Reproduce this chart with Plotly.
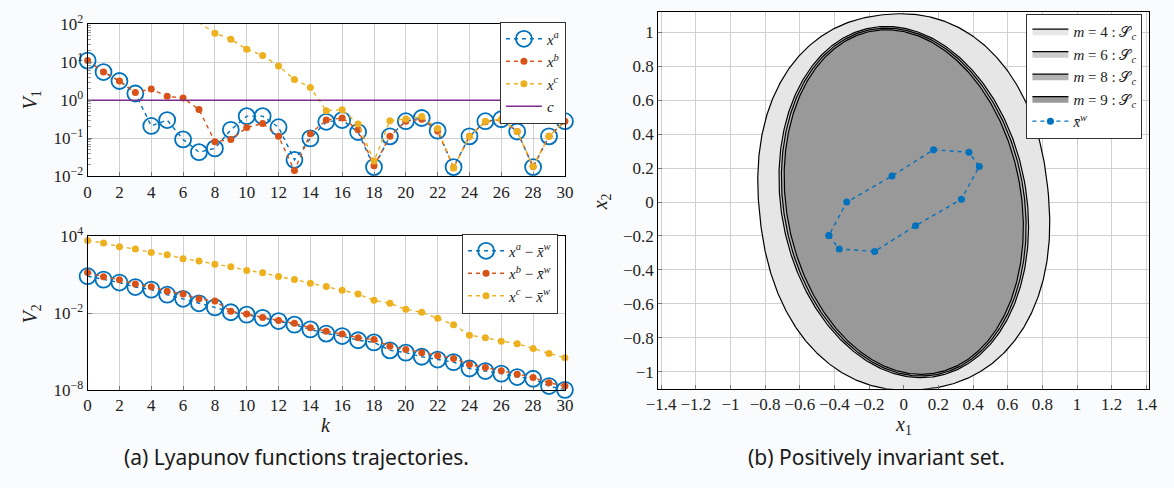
import numpy as np
import plotly.graph_objects as go

# ---------------- data ----------------
k = list(range(31))

# Lyapunov function V1 along three trajectories
v1_a = [11, 5.5, 3.2, 1.5, 0.21, 0.30, 0.093, 0.043, 0.054, 0.166, 0.38, 0.38, 0.195, 0.027,
        0.099, 0.27, 0.30, 0.145, 0.0174, 0.112, 0.28, 0.34, 0.158, 0.0174, 0.112, 0.28, 0.315,
        0.15, 0.0174, 0.112, 0.28]
v1_b = [11, 5.5, 3.2, 1.6, 1.96, 1.26, 1.14, 0.57, 0.081, 0.093, 0.19, 0.245, 0.112, 0.0141,
        0.132, 0.30, 0.34, 0.166, 0.019, 0.112, 0.28, 0.315, 0.155, 0.0168, 0.112, 0.27, 0.31,
        0.15, 0.018, 0.112, 0.28]
v1_c = [5200, 2800, 1600, 900, 520, 330, 190, 110, 58, 40, 22, 15, 7.9, 3.5,
        2.16, 0.53, 0.56, 0.235, 0.025, 0.29, 0.32, 0.37, 0.18, 0.0165, 0.112, 0.28, 0.315,
        0.15, 0.018, 0.112, 0.28]
c_level = 1.0

# log10 of V2 along the same trajectories (relative to the periodic orbit)
log_v2_a = [0.89, 0.62, 0.39, 0.04, -0.16, -0.56, -0.88, -1.23, -1.55, -1.93, -2.12, -2.37,
            -2.62, -2.90, -3.27, -3.60, -3.79, -4.12, -4.29, -4.91, -5.09, -5.41, -5.63, -5.83,
            -6.33, -6.53, -6.73, -7.00, -7.13, -7.70, -8.00]
log_v2_b = [1.18, 0.84, 0.62, 0.27, 0.07, -0.28, -0.51, -0.88, -1.05, -1.85, -2.07, -2.35,
            -2.57, -2.80, -3.15, -3.42, -3.64, -3.92, -4.07, -4.59, -4.84, -5.09, -5.34, -5.54,
            -6.01, -6.26, -6.51, -6.78, -7.03, -7.45, -7.70]
log_v2_c = [3.68, 3.48, 3.20, 3.01, 2.75, 2.56, 2.26, 2.08, 1.83, 1.63, 1.34, 1.16, 0.86, 0.64,
            0.34, 0.09, -0.21, -0.51, -1.00, -1.23, -1.70, -1.93, -2.40, -2.90, -3.72, -3.92,
            -4.19, -4.39, -4.76, -5.16, -5.48]

# level sets S_c for polynomial Lyapunov functions of degree m
# (rotated superellipse approximation: minor/major semi-axes, tilt of the major axis, exponent)
m_levels = [4, 6, 8, 9]
semi_minor = [0.835, 0.707, 0.693, 0.677]
semi_major = [1.11, 1.044, 1.034, 1.024]
tilt_deg = [6.0, 10.3, 10.2, 10.1]
shape_exp = [2.2, 2.0, 2.0, 2.0]
set_fill = ["#e6e6e6", "#cccccc", "#b3b3b3", "#999999"]

# periodic orbit x̄^w
orbit_x1 = [-0.432, -0.372, -0.168, 0.068, 0.333, 0.436, 0.376, 0.172, -0.068, -0.329, -0.432]
orbit_x2 = [-0.197, -0.277, -0.291, -0.140, 0.017, 0.210, 0.293, 0.308, 0.154, 0.000, -0.197]

# ---------------- style ----------------
BLUE, ORANGE, YELLOW, PURPLE = "#0072bd", "#d95319", "#edb120", "#7e2f8e"
SERIF = "Liberation Serif"
TXT = "#222222"
GRID = "#d0d0d0"
W, H = 1174, 488


def px_x(p):
    return p / W


def px_y(p):
    return 1 - p / H


fig = go.Figure()

# ---- top left: V1 ----
fig.add_trace(go.Scatter(x=k, y=v1_a, mode="lines+markers", name="<i>x</i><sup><i>a</i></sup>",
                         line=dict(color=BLUE, width=1.4, dash="4px,4px"),
                         marker=dict(symbol="circle-open", size=16, color=BLUE, line=dict(width=1.8)),
                         cliponaxis=False, xaxis="x", yaxis="y", legend="legend"))
fig.add_trace(go.Scatter(x=k, y=v1_b, mode="lines+markers", name="<i>x</i><sup><i>b</i></sup>",
                         line=dict(color=ORANGE, width=1.4, dash="4px,4px"),
                         marker=dict(size=7, color=ORANGE),
                         cliponaxis=False, xaxis="x", yaxis="y", legend="legend"))
fig.add_trace(go.Scatter(x=k, y=v1_c, mode="lines+markers", name="<i>x</i><sup><i>c</i></sup>",
                         line=dict(color=YELLOW, width=1.4, dash="4px,4px"),
                         marker=dict(size=7, color=YELLOW),
                         cliponaxis=True, xaxis="x", yaxis="y", legend="legend"))
fig.add_trace(go.Scatter(x=[k[0], k[-1]], y=[c_level, c_level], mode="lines", name="<i>c</i>",
                         line=dict(color=PURPLE, width=1.6),
                         xaxis="x", yaxis="y", legend="legend"))

# ---- bottom left: V2 ----
v2_names = ["<i>x</i><sup><i>a</i></sup> − <i>x̄</i><sup><i>w</i></sup>",
            "<i>x</i><sup><i>b</i></sup> − <i>x̄</i><sup><i>w</i></sup>",
            "<i>x</i><sup><i>c</i></sup> − <i>x̄</i><sup><i>w</i></sup>"]
fig.add_trace(go.Scatter(x=k, y=[10 ** v for v in log_v2_a], mode="lines+markers", name=v2_names[0],
                         line=dict(color=BLUE, width=1.4, dash="4px,4px"),
                         marker=dict(symbol="circle-open", size=16, color=BLUE, line=dict(width=1.8)),
                         cliponaxis=False, xaxis="x2", yaxis="y2", legend="legend2"))
fig.add_trace(go.Scatter(x=k, y=[10 ** v for v in log_v2_b], mode="lines+markers", name=v2_names[1],
                         line=dict(color=ORANGE, width=1.4, dash="4px,4px"),
                         marker=dict(size=7, color=ORANGE),
                         cliponaxis=False, xaxis="x2", yaxis="y2", legend="legend2"))
fig.add_trace(go.Scatter(x=k, y=[10 ** v for v in log_v2_c], mode="lines+markers", name=v2_names[2],
                         line=dict(color=YELLOW, width=1.4, dash="4px,4px"),
                         marker=dict(size=7, color=YELLOW),
                         cliponaxis=False, xaxis="x2", yaxis="y2", legend="legend2"))

# ---- right: invariant sets and periodic orbit ----
t = np.linspace(0, 2 * np.pi, 600)
for m, a, b, phi, p, col in zip(m_levels, semi_minor, semi_major, tilt_deg, shape_exp, set_fill):
    u = a * np.sign(np.cos(t)) * np.abs(np.cos(t)) ** (2 / p)
    v = b * np.sign(np.sin(t)) * np.abs(np.sin(t)) ** (2 / p)
    r = np.deg2rad(phi)
    bx = u * np.cos(r) - v * np.sin(r)
    by = u * np.sin(r) + v * np.cos(r)
    fig.add_trace(go.Scatter(x=bx, y=by, mode="lines", fill="toself", fillcolor=col,
                             line=dict(color="black", width=1.2),
                             name=f"<i>m</i> = {m} : 𝒮<sub><i>c</i></sub>",
                             xaxis="x3", yaxis="y3", legend="legend3"))
fig.add_trace(go.Scatter(x=orbit_x1, y=orbit_x2, mode="lines+markers", name="<i>x̄</i><sup><i>w</i></sup>",
                         line=dict(color=BLUE, width=1.4, dash="4px,4px"),
                         marker=dict(size=7, color=BLUE),
                         xaxis="x3", yaxis="y3", legend="legend3"))

# ---------------- axes ----------------
tick_font = dict(family=SERIF, size=17, color=TXT)
frame = dict(showline=True, linecolor="black", linewidth=1.2, mirror=True,
             gridcolor=GRID, gridwidth=1, zeroline=False, tickfont=tick_font,
             ticks="inside", ticklen=4, tickcolor="#777")

left_x = [px_x(77), px_x(563)]
decades1 = [-2, -1, 0, 1, 2]
minor1 = [d * 10 ** e for e in range(-2, 2) for d in range(2, 10)]

fig.update_layout(
    xaxis=dict(domain=left_x, anchor="y", range=[0, 30], tickvals=list(range(0, 31, 2)), **frame),
    yaxis=dict(domain=[px_y(172), px_y(12.7)], anchor="x", type="log", range=[-2, 2],
               tickvals=[10 ** e for e in decades1],
               ticktext=["10<sup>%s</sup>" % str(e).replace("-", "−") for e in decades1],
               minor=dict(tickvals=minor1, ticks="inside", ticklen=3, tickcolor="#999", showgrid=False),
               **frame),
    xaxis2=dict(domain=left_x, anchor="y2", range=[0, 30], tickvals=list(range(0, 31, 2)), **frame),
    yaxis2=dict(domain=[px_y(395.7), px_y(235)], anchor="x2", type="log", range=[-8, 4],
                tickvals=[1e-8, 1e-2, 1e4],
                ticktext=["10<sup>−8</sup>", "10<sup>−2</sup>", "10<sup>4</sup>"], **frame),
    xaxis3=dict(domain=[px_x(658), px_x(1158)], anchor="y3", range=[-1.417, 1.417],
                tickvals=[round(-1.4 + 0.2 * i, 1) for i in range(15)],
                ticktext=[("%g" % round(-1.4 + 0.2 * i, 1)).replace("-", "−") for i in range(15)],
                **frame),
    yaxis3=dict(domain=[px_y(394.5), px_y(0.5)], anchor="x3", range=[-1.10, 1.117],
                tickvals=[round(-1 + 0.2 * i, 1) for i in range(11)],
                ticktext=[("%g" % round(-1 + 0.2 * i, 1)).replace("-", "−") for i in range(11)],
                **frame),
)

# ---------------- legends ----------------
leg_common = dict(bgcolor="white", bordercolor="#333", borderwidth=1,
                  font=dict(family=SERIF, size=15, color=TXT), xanchor="right", yanchor="top",
                  itemwidth=36, tracegroupgap=0)
fig.update_layout(
    legend=dict(x=px_x(564), y=px_y(10), **leg_common),
    legend2=dict(x=px_x(556), y=px_y(232), **leg_common),
    legend3=dict(x=px_x(1151), y=px_y(2), **leg_common),
)

# ---------------- axis titles and captions ----------------
ann = [
    dict(text="<i>V</i><sub>1</sub>", x=px_x(20), y=px_y(92), textangle=-90),
    dict(text="<i>V</i><sub>2</sub>", x=px_x(20), y=px_y(316), textangle=-90),
    dict(text="<i>k</i>", x=px_x(320), y=px_y(432)),
    dict(text="<i>x</i><sub>1</sub>", x=px_x(908), y=px_y(433)),
    dict(text="<i>x</i><sub>2</sub>", x=px_x(600), y=px_y(199), textangle=-90),
]
annotations = [dict(a, xref="paper", yref="paper", showarrow=False, xanchor="center", yanchor="middle",
                    font=dict(family=SERIF, size=20, color=TXT)) for a in ann]
for txt, cx in [("(a) Lyapunov functions trajectories.", 290),
                ("(b) Positively invariant set.", 880)]:
    annotations.append(dict(text=txt, x=px_x(cx), y=px_y(466), xref="paper", yref="paper",
                            showarrow=False, xanchor="center", yanchor="middle",
                            font=dict(family="Noto Sans", size=21, color="#1a1a1a")))

fig.update_layout(
    width=W, height=H, margin=dict(l=0, r=0, t=0, b=0),
    font=dict(family=SERIF, size=16, color=TXT),
    paper_bgcolor="#fafbfd", plot_bgcolor="white",
    annotations=annotations, showlegend=True,
)

fig.write_html("out.html")
